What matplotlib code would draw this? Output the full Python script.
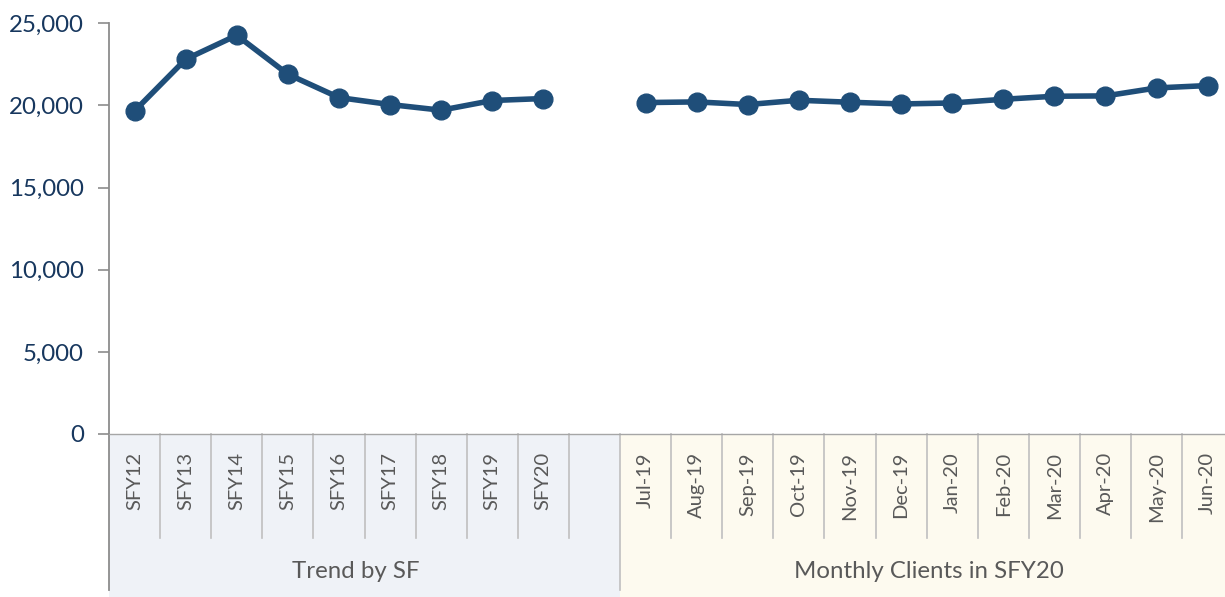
import matplotlib
matplotlib.use("Agg")
import matplotlib.pyplot as plt
import matplotlib.transforms as mtransforms
from matplotlib.patches import Rectangle
from matplotlib.ticker import FuncFormatter

# ---- data ----
sfy_labels = ["SFY12", "SFY13", "SFY14", "SFY15", "SFY16", "SFY17", "SFY18", "SFY19", "SFY20"]
sfy_values = [19665, 22810, 24270, 21900, 20480, 20055, 19710, 20300, 20420]
month_labels = ["Jul-19", "Aug-19", "Sep-19", "Oct-19", "Nov-19", "Dec-19",
                "Jan-20", "Feb-20", "Mar-20", "Apr-20", "May-20", "Jun-20"]
month_values = [20175, 20215, 20055, 20315, 20195, 20090, 20150, 20375, 20560, 20580, 21065, 21210]
group_labels = ["Trend by SF", "Monthly Clients in SFY20"]
y_ticks = [0, 5000, 10000, 15000, 20000, 25000]

# ---- styling ----
LINE = "#1f4e79"
YTXT = "#17375e"
GREY_TXT = "#595959"
SEP = "#bfbfbf"
SPINE = "#8c8c8c"
BAND_L = "#eff2f7"
BAND_R = "#fdfaef"
FONT = "Lato"

W, H = 1225, 597
fig = plt.figure(figsize=(W / 100, H / 100), dpi=100)
ax_left = 109 / W
ax_bottom = (H - 434) / H
ax_h = (434 - 23.3) / H
ax_w = 22 * 51.1 / W
ax = fig.add_axes([ax_left, ax_bottom, ax_w, ax_h])

n_sfy = len(sfy_labels)
gap = 1
x_sfy = list(range(n_sfy))
x_mon = [n_sfy + gap + i for i in range(len(month_labels))]
n_total = n_sfy + gap + len(month_labels)

ax.plot(x_sfy, sfy_values, color=LINE, lw=4.0, marker="o", ms=13.5,
        solid_joinstyle="round", clip_on=False, zorder=5)
ax.plot(x_mon, month_values, color=LINE, lw=4.0, marker="o", ms=13.5,
        solid_joinstyle="round", clip_on=False, zorder=5)

ax.set_xlim(-0.5, n_total - 0.5)
ax.set_ylim(0, 25000)
ax.set_yticks(y_ticks)
ax.yaxis.set_major_formatter(FuncFormatter(lambda v, p: f"{int(v):,}"))
ax.tick_params(axis="y", length=8, width=1.2, color=SPINE, pad=10,
               labelsize=17.3, labelcolor=YTXT)
for lbl in ax.get_yticklabels():
    lbl.set_fontfamily(FONT)

all_labels = sfy_labels + [""] * gap + month_labels
ax.set_xticks(list(range(n_total)))
ax.set_xticklabels(all_labels, rotation=90, fontsize=14.5, color=GREY_TXT,
                   family=FONT, va="top", ha="center")
ax.tick_params(axis="x", length=0, pad=13)

for s in ["top", "right"]:
    ax.spines[s].set_visible(False)
ax.spines["left"].set_color(SPINE)
ax.spines["left"].set_linewidth(1.3)
ax.spines["bottom"].set_color("#a6a6a6")
ax.spines["bottom"].set_linewidth(1.0)

# lower category area
trans = mtransforms.blended_transform_factory(ax.transData, ax.transAxes)
px = 1 / ((434 - 23.3))  # axes fraction per pixel (vertical)
band_bottom = -(H - 434 + 5) * px
ax.add_patch(Rectangle((-0.5, band_bottom), n_sfy + gap, -band_bottom,
                       transform=trans, facecolor=BAND_L, edgecolor="none",
                       clip_on=False, zorder=0))
ax.add_patch(Rectangle((n_sfy + gap - 0.5, band_bottom), len(month_labels) + 1, -band_bottom,
                       transform=trans, facecolor=BAND_R, edgecolor="none",
                       clip_on=False, zorder=0))

short = -(538 - 434) * px
long_ = -(590 - 434) * px
for k in range(1, n_total):
    xb = k - 0.5
    y1 = long_ if k == n_sfy + gap else short
    ax.plot([xb, xb], [0, y1], transform=trans, color=SEP, lw=1.2,
            clip_on=False, zorder=1)
ax.plot([-0.5, -0.5], [0, long_], transform=trans, color=SPINE, lw=1.3,
        clip_on=False, zorder=1)

label_y = -(572 - 434) * px
ax.text(4.33, label_y, group_labels[0], transform=trans,
        ha="center", va="center", fontsize=17.3, color=GREY_TXT, family=FONT)
ax.text(15.55, label_y, group_labels[1], transform=trans,
        ha="center", va="center", fontsize=17.3, color=GREY_TXT, family=FONT)

fig.savefig("out.png", dpi=100)
